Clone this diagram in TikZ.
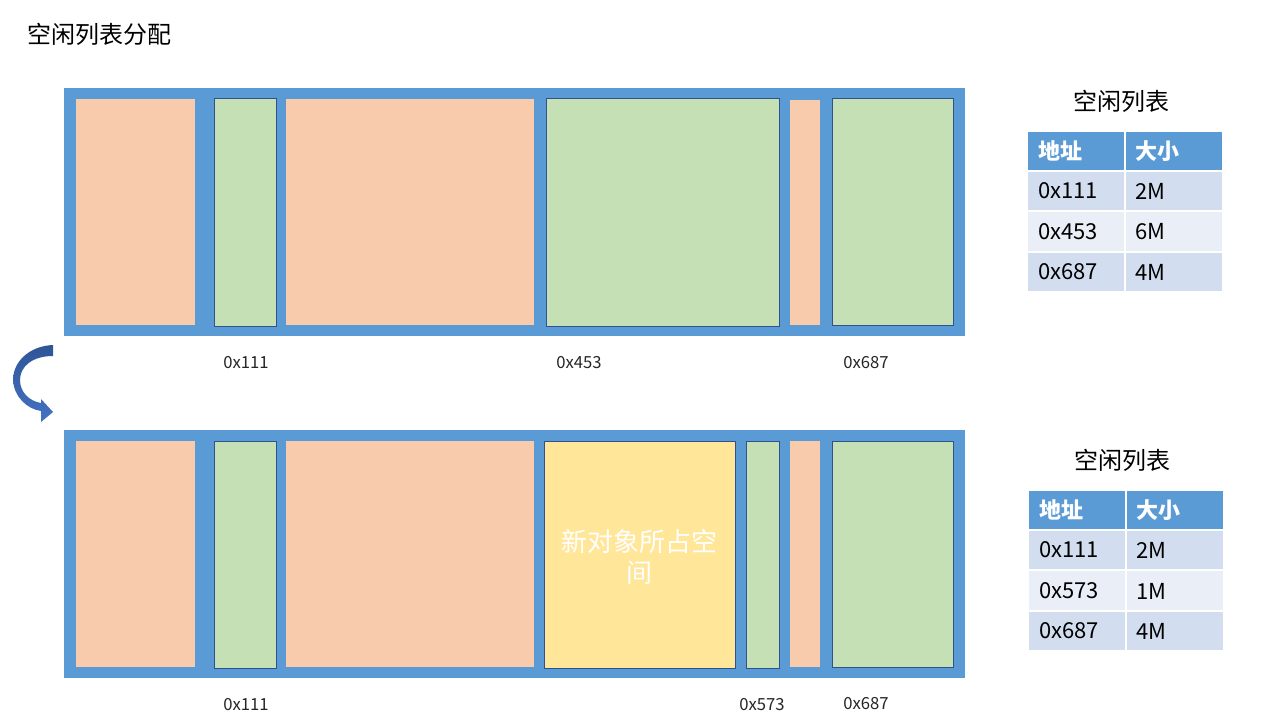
\documentclass[tikz,border=0pt]{standalone}
\usepackage{fontspec}
\setmainfont{Noto Sans CJK SC}
\definecolor{frameblue}{HTML}{5B9BD5}
\definecolor{orangeb}{HTML}{F8CBAD}
\definecolor{greenb}{HTML}{C5E0B4}
\definecolor{yellowb}{HTML}{FFE699}
\definecolor{edgeb}{HTML}{2F528F}
\definecolor{rowa}{HTML}{D2DEEF}
\definecolor{rowb}{HTML}{EAEFF7}
\definecolor{txt}{HTML}{262626}
\definecolor{arrdark}{HTML}{2F5597}
\definecolor{arrlight}{HTML}{4472C4}
\tikzset{
  frame/.style={fill=frameblue},
  used/.style={fill=orangeb},
  free/.style={fill=greenb, draw=edgeb, line width=0.75pt},
  newobj/.style={fill=yellowb, draw=edgeb, line width=0.75pt},
  addr/.style={font=\fontsize{12.5pt}{14pt}\selectfont, text=txt, inner sep=0pt},
  hdr/.style={fill=frameblue},
  cella/.style={fill=rowa},
  cellb/.style={fill=rowb},
  hdrtxt/.style={font=\fontsize{16.5pt}{18pt}\selectfont\bfseries, text=white, anchor=west, inner sep=0pt},
  celltxt/.style={font=\fontsize{16.5pt}{18pt}\selectfont, text=black, anchor=west, inner sep=0pt},
  ttl/.style={font=\fontsize{18pt}{20pt}\selectfont, text=black, inner sep=0pt},
}
\newcommand\freetable[6]{%
  \begin{scope}[shift={#1}]
    \node[ttl] (#2t) at (93,-31) {空闲列表};
    \path[hdr] (0,0) rectangle (96,38);
    \path[hdr] (98,0) rectangle (194,38);
    \path[cella] (0,40) rectangle (96,78);
    \path[cella] (98,40) rectangle (194,78);
    \path[cellb] (0,80) rectangle (96,119);
    \path[cellb] (98,80) rectangle (194,119);
    \path[cella] (0,121) rectangle (96,159);
    \path[cella] (98,121) rectangle (194,159);
    \node[hdrtxt] (#2h1) at (10,19) {地址};
    \node[hdrtxt] (#2h2) at (107,19) {大小};
    \node[celltxt] (#2a1) at (10,59) {0x111};
    \node[celltxt] (#2b1) at (107,59) {2M};
    \node[celltxt] (#2a2) at (10,100) {#3};
    \node[celltxt] (#2b2) at (107,100) {#4};
    \node[celltxt] (#2a3) at (10,140) {#5};
    \node[celltxt] (#2b3) at (107,140) {#6};
  \end{scope}}
\begin{document}
\begin{tikzpicture}[x=0.75pt,y=-0.75pt]
\useasboundingbox (0,0) rectangle (1280,720);
\fill[white] (0,0) rectangle (1280,720);

% title
\node[ttl, anchor=west] (title) at (27,34) {空闲列表分配};

% top memory
\path[frame] (64,88) rectangle (965,336);
\path[used] (76,99) rectangle (195,325);
\path[free] (214,99) rectangle (276,326);
\path[used] (286,99) rectangle (534,325);
\path[free] (546,99) rectangle (779,326);
\path[used] (790,100) rectangle (820,325);
\path[free] (832,99) rectangle (953,325);
\node[addr] (ta1) at (246,363) {0x111};
\node[addr] (ta2) at (579,363) {0x453};
\node[addr] (ta3) at (866,363) {0x687};

% bottom memory
\path[frame] (64,430) rectangle (965,678);
\path[used] (76,441) rectangle (195,667);
\path[free] (214,441) rectangle (276,668);
\path[used] (286,441) rectangle (534,667);
\path[newobj] (544,441) rectangle (735,668);
\path[free] (746,441) rectangle (779,668);
\path[used] (790,441) rectangle (820,667);
\path[free] (832,441) rectangle (953,667);
\node[text=white, align=center, inner sep=0pt,
      font=\fontsize{19.5pt}{23.25pt}\selectfont] (newtxt) at (639.5,557) {新对象所占空\\间};
\node[addr] (ba1) at (246,705) {0x111};
\node[addr] (ba2) at (762,705) {0x573};
\node[addr] (ba3) at (866,704) {0x687};

% curved arrow
\path[top color=arrdark, bottom color=arrlight]
  (53,345) .. controls (29,346) and (13,362) .. (13,380)
  .. controls (14,397) and (27,409) .. (41,411)
  -- (41,422) -- (53,412) -- (41,399) -- (41,403)
  .. controls (29,401) and (20,392) .. (20,380)
  .. controls (20,366) and (33,356) .. (53,356) -- cycle;

% tables
\freetable{(1028,132)}{t1}{0x453}{6M}{0x687}{4M}
\freetable{(1029,491)}{t2}{0x573}{1M}{0x687}{4M}
\end{tikzpicture}
\end{document}
